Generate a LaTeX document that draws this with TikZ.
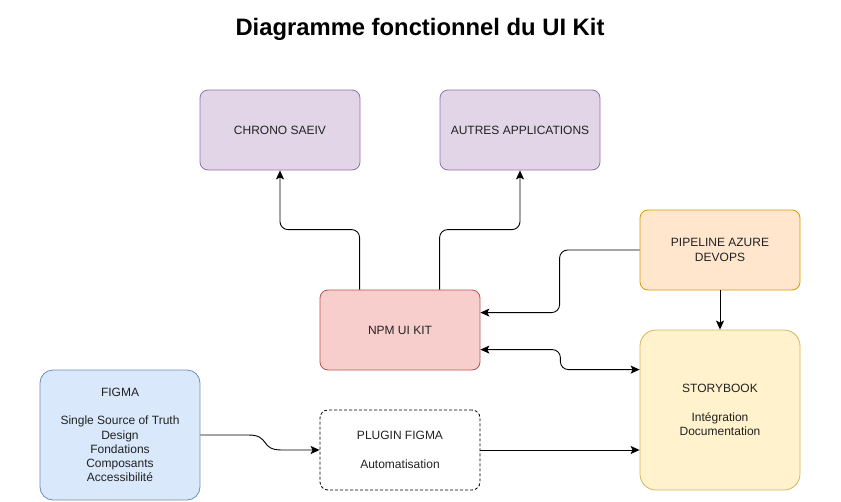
\documentclass[tikz,border=0pt]{standalone}
\usepackage{fontspec}
\setmainfont{Liberation Sans}
\usetikzlibrary{arrows.meta,calc}
\definecolor{purpleF}{HTML}{E1D5E7}\definecolor{purpleS}{HTML}{9673A6}
\definecolor{redF}{HTML}{F8CECC}\definecolor{redS}{HTML}{B85450}
\definecolor{orangeF}{HTML}{FFE6CC}\definecolor{orangeS}{HTML}{D79B00}
\definecolor{yellowF}{HTML}{FFF2CC}\definecolor{yellowS}{HTML}{D6B656}
\definecolor{blueF}{HTML}{DAE8FC}\definecolor{blueS}{HTML}{6C8EBF}
\definecolor{txt}{HTML}{222222}
\begin{document}
\begin{tikzpicture}[x=1pt,y=-1pt,
  >={Stealth[length=9pt,width=8pt,inset=2pt]},
  box/.style={draw, rounded corners=8pt, minimum width=160pt, minimum height=80pt, inner sep=0pt,
    align=center, text=txt, font=\fontsize{12}{14.2}\selectfont, line width=0.8pt},
  conn/.style={line width=0.9pt, rounded corners=8pt, ->}]
\useasboundingbox[fill=white] (0,0) rectangle (841,501);
\node[font=\bfseries\fontsize{23.8}{28}\selectfont] (title) at (420,29) {Diagramme fonctionnel du UI Kit};
\node[box, fill=purpleF, draw=purpleS] (chrono) at (280,130) {CHRONO SAEIV};
\node[box, fill=purpleF, draw=purpleS] (autres) at (520,130) {AUTRES APPLICATIONS};
\node[box, fill=orangeF, draw=orangeS] (pipe) at (720,250) {PIPELINE AZURE\\DEVOPS};
\node[box, fill=redF, draw=redS] (npm) at (400,330) {NPM UI KIT};
\node[box, fill=yellowF, draw=yellowS, minimum height=160pt, rounded corners=16pt] (story) at (720,410) {STORYBOOK\\[14.2pt]Intégration\\Documentation};
\node[box, fill=blueF, draw=blueS, minimum height=130pt, rounded corners=13pt] (figma) at (120,435) {FIGMA\\[14.2pt]Single Source of Truth\\Design\\Fondations\\Composants\\Accessibilité};
\node[box, dashed, dash pattern=on 3pt off 2pt] (plugin) at (400,450) {PLUGIN FIGMA\\[14.2pt]Automatisation};
% connectors
\draw[conn] ($(npm.north west)+(40,0)$) -- ++(0,-60) -| (chrono.south);
\draw[conn] ($(npm.north west)+(120,0)$) -- ++(0,-60) -| (autres.south);
\draw[conn] (pipe.west) -- ++(-80,0) |- ($(npm.north east)+(0,23)$);
\draw[conn, <->] ($(npm.north east)+(0,60)$) -- ++(80,0) |- ($(story.north west)+(0,40)$);
\draw[conn] (pipe.south) -- (story.north);
\draw[conn] (figma.east) -- ++(40,0) .. controls +(30,0) and +(-30,0) .. ($(plugin.west)+(-30,0)$) -- (plugin.west);
\draw[conn] (plugin.east) -- (story.west |- plugin.east);
\end{tikzpicture}
\end{document}
